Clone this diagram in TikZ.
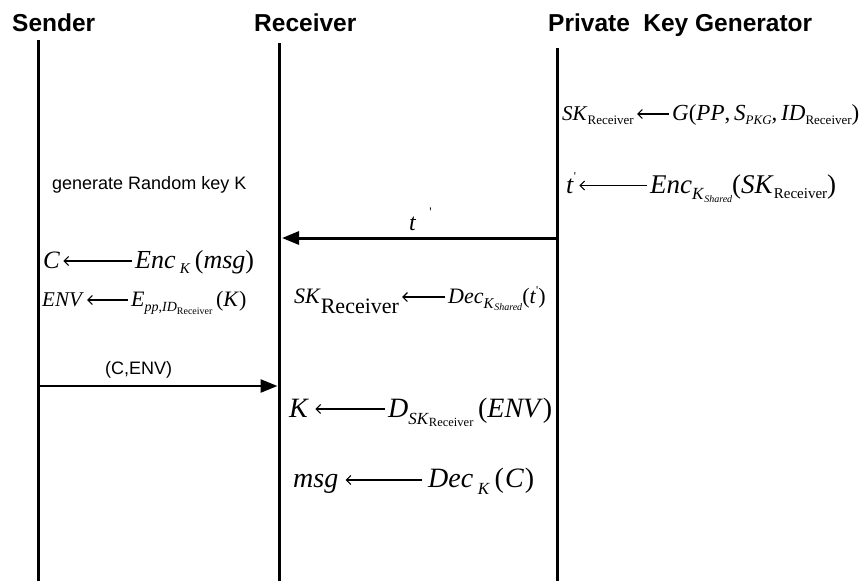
\documentclass[tikz,border=0pt]{standalone}
\usepackage{fontspec}
\setmainfont{Liberation Serif}
\newfontfamily\headfont{Liberation Sans}
\usetikzlibrary{arrows.meta}

% font size in pt, baseline equal to size
\newcommand\fs[1]{\fontsize{#1}{#1}\selectfont}
% lowered / raised pieces for sub- and superscripts
\newcommand\lo[2]{\raisebox{-#1}{#2}}
\newcommand\hi[2]{\raisebox{#1}{#2}}

\begin{document}
\begin{tikzpicture}[x=1pt,y=-1pt,
  title/.style={font=\headfont\bfseries\fs{24.5}, anchor=base west, inner sep=0pt},
  note/.style={font=\headfont\fs{18}, anchor=base west, inner sep=0pt},
  eq/.style={anchor=base west, inner sep=0pt},
  life/.style={line width=3pt},
  msgarrow/.style={line width=3pt, -{Triangle[length=17pt,width=13pt]}},
  maps/.style={line width=1.1pt, {Straight Barb[length=4.5pt,width=9pt]}-,
               shorten <=3pt, shorten >=3pt}]

\fill[white] (0,0) rectangle (866,581);
\useasboundingbox (0,0) rectangle (866,581);

% participants
\node[title] (sender)   at (12,31)  {Sender};
\node[title] (receiver) at (254,31) {Receiver};
\node[title] (pkg)      at (548,31) {Private\hspace{0.55em}Key Generator};

% lifelines
\coordinate (sndtop) at (38.5,40);  \coordinate (sndbot) at (38.5,581);
\coordinate (rcvtop) at (279,43);   \coordinate (rcvbot) at (279,581);
\coordinate (pkgtop) at (557,48);   \coordinate (pkgbot) at (557,581);
\draw[life] (sndtop) -- (sndbot);
\draw[life] (rcvtop) -- (rcvbot);
\draw[life] (pkgtop) -- (pkgbot);

% PKG: key extraction
\node[eq, font=\fs{21}] (skgen) at (562,120)
  {\textit{SK}\lo{4pt}{\fs{13}Receiver}};
\node[eq, font=\fs{23}] (gfun) at (672,120)
  {\textit{G}(\textit{PP},\,\textit{S}\lo{4pt}{\fs{13}\textit{PKG}},\,\textit{ID}\lo{4pt}{\fs{13}Receiver})};
\draw[maps] ([yshift=6pt]skgen.base east) -- ([yshift=6pt]gfun.base west);

% PKG: encryption of the private key
\node[eq, font=\fs{26}] (tp) at (566,193)
  {\textit{t}\hi{13pt}{\fs{12}\textquotesingle}};
\node[eq, font=\fs{27}] (encsh) at (650,193)
  {\textit{Enc}\lo{6pt}{\fs{17}\textit{K}\lo{3pt}{\fs{10}\textit{Shared}}}(\textit{SK}\lo{5pt}{\fs{15}Receiver})};
\draw[maps] ([yshift=7.5pt]tp.base east) -- ([yshift=7.5pt]encsh.base west);

% sender: random key
\node[note] (genkey) at (52,189) {generate Random key K};

% message t'
\coordinate (tsrc) at (557,238); \coordinate (tdst) at (282,238);
\draw[msgarrow] (tsrc) -- (tdst);
\node[eq, font=\fs{24}] (tlabel) at (409,230) {\textit{t}\hspace{13pt}\hi{14pt}{\fs{13}\textquotesingle}};

% sender: encryptions
\node[eq, font=\fs{25}] (cvar) at (43,268) {\textit{C}};
\node[eq, font=\fs{26}] (encK) at (135,268)
  {\textit{Enc}\,\lo{5pt}{\fs{15}\textit{K}}\,(\textit{msg})};
\draw[maps] ([yshift=7pt]cvar.base east) -- ([yshift=7pt]encK.base west);

\node[eq, font=\fs{21}] (envvar) at (42,306) {\textit{ENV}};
\node[eq, font=\fs{22}] (ekey) at (131,306)
  {\textit{E}\lo{5pt}{\fs{14}\textit{pp},\textit{ID}\lo{3pt}{\fs{10}Receiver}}\,(\textit{K})};
\draw[maps] ([yshift=6pt]envvar.base east) -- ([yshift=6pt]ekey.base west);

% receiver: decrypt private key
\node[eq, font=\fs{22}] (skrec) at (294,303)
  {\textit{SK}\lo{10pt}{\fs{22}Receiver}};
\node[eq, font=\fs{22}] (decsh) at (448,303)
  {\textit{Dec}\lo{5pt}{\fs{15}\textit{K}\lo{2pt}{\fs{10}\textit{Shared}}}(\textit{t}\hi{9pt}{\fs{12}\textquotesingle})};
\draw[maps] ([yshift=6pt]skrec.base east) -- ([yshift=6pt]decsh.base west);

% message (C,ENV)
\coordinate (csrc) at (38.5,386); \coordinate (cdst) at (277.5,386);
\draw[msgarrow, line width=2.6pt] (csrc) -- (cdst);
\node[note] (cenv) at (105,374) {(C,ENV)};

% receiver: recover K and the message
\node[eq, font=\fs{28}] (kvar) at (289,417) {\textit{K}};
\node[eq, font=\fs{28}] (dsk) at (388,417)
  {\textit{D}\lo{7pt}{\fs{17}\textit{SK}\lo{2pt}{\fs{12.5}Receiver}}\,(\textit{ENV})};
\draw[maps, shorten <=6pt] ([yshift=8pt]kvar.base east) -- ([yshift=8pt]dsk.base west);

\node[eq, font=\fs{28}] (msgout) at (293,487) {\textit{msg}};
\node[eq, font=\fs{28}] (deck) at (428,487)
  {\textit{Dec}\,\lo{7pt}{\fs{17}\textit{K}}\,(\kern1pt\textit{C}\kern1pt)};
\draw[maps, shorten <=7pt, shorten >=6pt] ([yshift=7pt]msgout.base east) -- ([yshift=7pt]deck.base west);
\end{tikzpicture}
\end{document}
